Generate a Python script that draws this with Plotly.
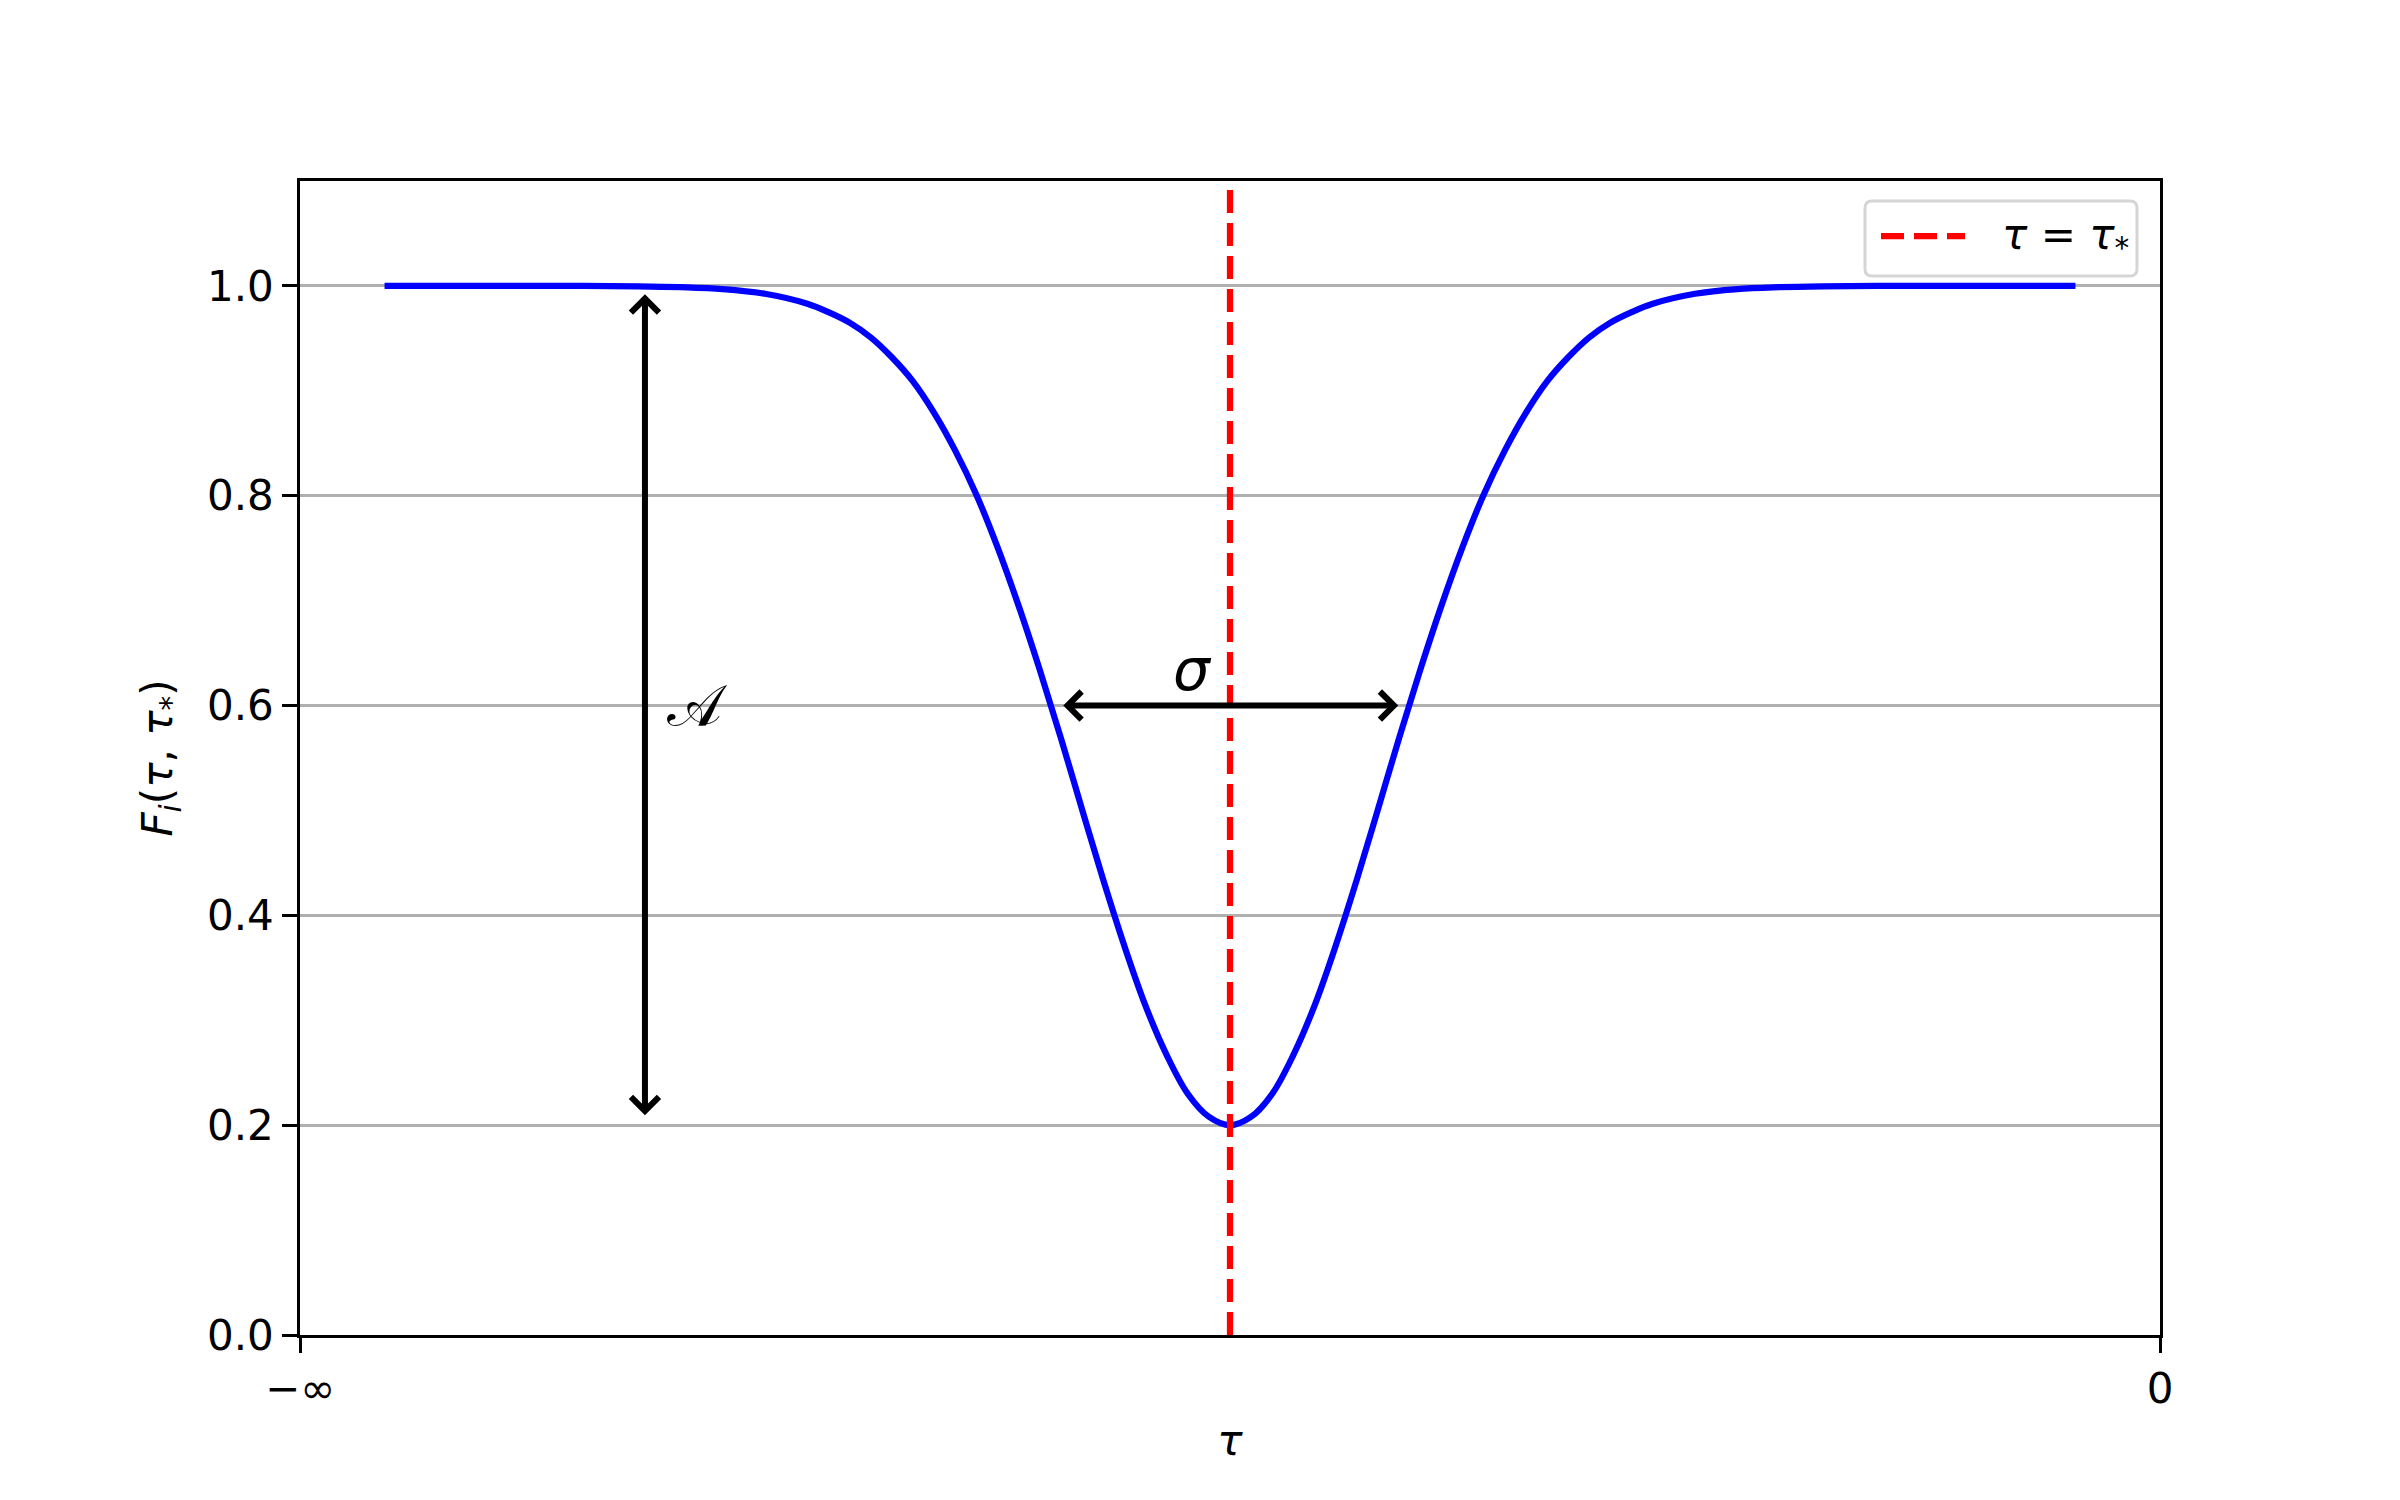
import plotly.graph_objects as go

# curve (tau in arbitrary units, centre at 0)
tau = [-10, -9, -8, -7, -6.5, -6, -5.5, -5, -4.75, -4.5, -4.25, -4, -3.75, -3.5, -3.25,
       -3, -2.75, -2.5, -2.25, -2, -1.75, -1.5, -1.25, -1, -0.75, -0.5, -0.25, 0,
       0.25, 0.5, 0.75, 1, 1.25, 1.5, 1.75, 2, 2.25, 2.5, 2.75, 3, 3.25, 3.5, 3.75,
       4, 4.25, 4.5, 4.75, 5, 5.5, 6, 6.5, 7, 8, 9, 10]
f_val = [1.0, 1.0, 1.0, 0.9996, 0.9988, 0.997, 0.9925, 0.983, 0.975, 0.965, 0.951, 0.932,
         0.909, 0.879, 0.843, 0.801, 0.751, 0.695, 0.634, 0.569, 0.501, 0.434, 0.371,
         0.314, 0.267, 0.230, 0.208, 0.200,
         0.208, 0.230, 0.267, 0.314, 0.371, 0.434, 0.501, 0.569, 0.634, 0.695, 0.751,
         0.801, 0.843, 0.879, 0.909, 0.932, 0.951, 0.965, 0.975, 0.983, 0.9925, 0.997,
         0.9988, 0.9996, 1.0, 1.0, 1.0]

tau_star = [0, 0]
tau_star_y = [0, 1.1]

x_tickvals = [-11, 11]
x_ticktext = ["\u2212\u221e", "0"]
y_tickvals = [0.0, 0.2, 0.4, 0.6, 0.8, 1.0]

FONT = "DejaVu Sans"
LW = 6.25
DASH = "23px,10px"

fig = go.Figure()
fig.add_trace(go.Scatter(
    x=tau, y=f_val, mode="lines",
    line=dict(color="blue", width=LW, shape="spline", smoothing=1.0),
    showlegend=False,
))
fig.add_trace(go.Scatter(
    x=tau_star, y=tau_star_y, mode="lines",
    line=dict(color="red", width=LW, dash=DASH),
    name="<i>τ</i> = <i>τ</i><sub>*</sub>", showlegend=False,
))

arrow = dict(
    text="", showarrow=True, axref="x", ayref="y",
    arrowside="end+start", arrowhead=4, startarrowhead=4,
    arrowwidth=6, arrowsize=0.9, startarrowsize=0.9,
    arrowcolor="black", standoff=0, startstandoff=0,
)
fig.add_annotation(x=-6.92, y=0.992, ax=-6.92, ay=0.208, **arrow)
fig.add_annotation(x=1.99, y=0.6, ax=-1.99, ay=0.6, **arrow)
fig.add_annotation(x=-6.68, y=0.6, text="𝒜", showarrow=False, xanchor="left", yanchor="middle",
                   font=dict(family="DejaVu Serif", size=58, color="black"))
fig.add_annotation(x=-0.7, y=0.6, text="<i>σ</i>", showarrow=False, xanchor="left",
                   yanchor="bottom", font=dict(family=FONT, size=58, color="black"))

# legend drawn by hand so the dashed sample has matplotlib's length
fig.add_shape(
    type="path", xref="paper", yref="paper", xsizemode="pixel", ysizemode="pixel",
    xanchor=1.0, yanchor=1.0,
    path="M -295,-27 Q -295,-20 -288,-20 L -30,-20 Q -23,-20 -23,-27 L -23,-88 "
         "Q -23,-95 -30,-95 L -288,-95 Q -295,-95 -295,-88 Z",
    line=dict(color="#d5d5d5", width=3), fillcolor="rgba(255,255,255,0.8)", layer="above",
)
fig.add_shape(
    type="line", xref="paper", yref="paper", xsizemode="pixel", ysizemode="pixel",
    xanchor=1.0, yanchor=1.0, x0=-279, x1=-195, y0=-55, y1=-55,
    line=dict(color="red", width=LW, dash=DASH), layer="above",
)
fig.add_annotation(
    xref="paper", yref="paper", x=1.0, y=1.0, xshift=-160, yshift=-56,
    text="<i>τ</i> = <i>τ</i><sub>*</sub>", showarrow=False, xanchor="left", yanchor="middle",
    font=dict(family=FONT, size=42, color="black"),
)

axis_common = dict(
    showline=True, linecolor="black", linewidth=3.3, mirror=True,
    ticks="outside", ticklen=14.6, tickwidth=3.3, tickcolor="black",
    zeroline=False,
)
fig.update_xaxes(
    range=[-11, 11], tickvals=x_tickvals, ticktext=x_ticktext, showgrid=False,
    title=dict(text="<i>τ</i>", font=dict(size=42), standoff=14),
    **axis_common,
)
fig.update_yaxes(
    range=[0, 1.1], tickvals=y_tickvals, tickformat=".1f",
    showgrid=True, gridcolor="#b0b0b0", gridwidth=3.3,
    title=dict(text="<i>F<sub>i</sub></i>(<i>τ</i>, <i>τ</i><sub>*</sub>)", font=dict(size=42), standoff=22),
    **axis_common,
)

fig.update_layout(
    width=2400, height=1500,
    paper_bgcolor="white", plot_bgcolor="white",
    font=dict(family=FONT, size=42, color="black"),
    margin=dict(l=292, r=248, t=173, b=173),
    showlegend=False,
)

fig.write_html("out.html")
